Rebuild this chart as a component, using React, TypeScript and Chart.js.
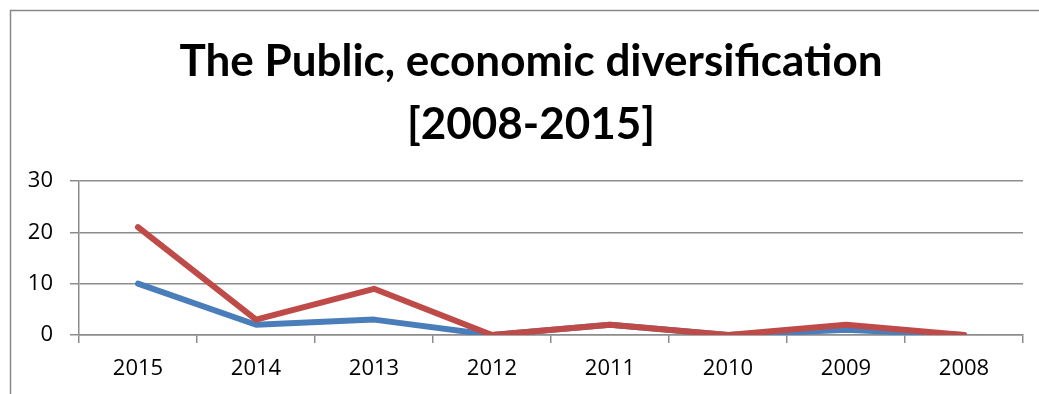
import React, { useEffect, useRef } from "react";
import { Chart, registerables } from "chart.js";

Chart.register(...registerables);

const years = ["2015", "2014", "2013", "2012", "2011", "2010", "2009", "2008"];
const seriesBlue = [10, 2, 3, 0, 2, 0, 1, 0];
const seriesRed = [21, 3, 9, 0, 2, 0, 2, 0];
const yTicks = [0, 10, 20, 30];
const titleLines = ["The Public, economic diversification", "[2008-2015]"];

const GRID = "#8c8c8c";
const FONT = "'Open Sans', 'DejaVu Sans', sans-serif";

const framePlugin = {
  id: "frameAndTitle",
  beforeDraw(chart: any) {
    const ctx = chart.ctx;
    ctx.save();
    ctx.fillStyle = "#ffffff";
    ctx.fillRect(0, 0, chart.width, chart.height);
    ctx.strokeStyle = "#888888";
    ctx.lineWidth = 1.5;
    ctx.beginPath();
    ctx.moveTo(10.5, chart.height);
    ctx.lineTo(10.5, 10.5);
    ctx.lineTo(chart.width, 10.5);
    ctx.stroke();
    ctx.fillStyle = "#000000";
    ctx.font = "bold 44px Lato, 'Open Sans', sans-serif";
    ctx.textAlign = "center";
    ctx.textBaseline = "middle";
    ctx.fillText(titleLines[0], 531, 62);
    ctx.fillText(titleLines[1], 531, 125);
    ctx.restore();
  },
};

export default function App() {
  const ref = useRef<HTMLCanvasElement | null>(null);
  useEffect(() => {
    if (!ref.current) return;
    const chart = new Chart(ref.current, {
      type: "line",
      data: {
        labels: years,
        datasets: [
          {
            label: "Series 1",
            data: seriesBlue,
            borderColor: "#4a7ebb",
            borderWidth: 6,
            pointRadius: 0,
            tension: 0,
            order: 1,
            borderCapStyle: "round",
            borderJoinStyle: "round",
          },
          {
            label: "Series 2",
            data: seriesRed,
            borderColor: "#be4b48",
            borderWidth: 6,
            pointRadius: 0,
            tension: 0,
            order: 0,
            borderCapStyle: "round",
            borderJoinStyle: "round",
          },
        ],
      },
      options: {
        animation: false,
        responsive: false,
        devicePixelRatio: 1,
        layout: { padding: { left: 10, top: 181, right: 16, bottom: 0 } },
        plugins: { legend: { display: false }, tooltip: { enabled: false }, title: { display: false } },
        scales: {
          x: {
            offset: true,
            grid: {
              display: true,
              drawOnChartArea: false,
              drawTicks: true,
              tickLength: 8,
              color: GRID,
              lineWidth: 1.5,
              offset: true,
            },
            border: { display: true, color: GRID, width: 1.5 },
            ticks: { color: "#000", font: { family: FONT, size: 22 }, padding: 13, maxRotation: 0 },
            afterFit(scale: any) {
              scale.height = 59;
            },
          },
          y: {
            min: 0,
            max: 30,
            afterBuildTicks(scale: any) {
              scale.ticks = yTicks.map((v) => ({ value: v }));
            },
            grid: { color: GRID, lineWidth: 1.5, tickLength: 9, drawTicks: true },
            border: { display: true, color: GRID, width: 1.5 },
            ticks: { color: "#000", font: { family: FONT, size: 22 }, padding: 17 },
            afterFit(scale: any) {
              scale.width = 69;
            },
          },
        },
      },
      plugins: [framePlugin],
    });
    return () => chart.destroy();
  }, []);
  return (
    <div style={{ position: "fixed", left: 0, top: 0, width: 1039, height: 394 }}>
      <canvas ref={ref} width={1039} height={394} style={{ width: 1039, height: 394, display: "block" }} />
    </div>
  );
}
